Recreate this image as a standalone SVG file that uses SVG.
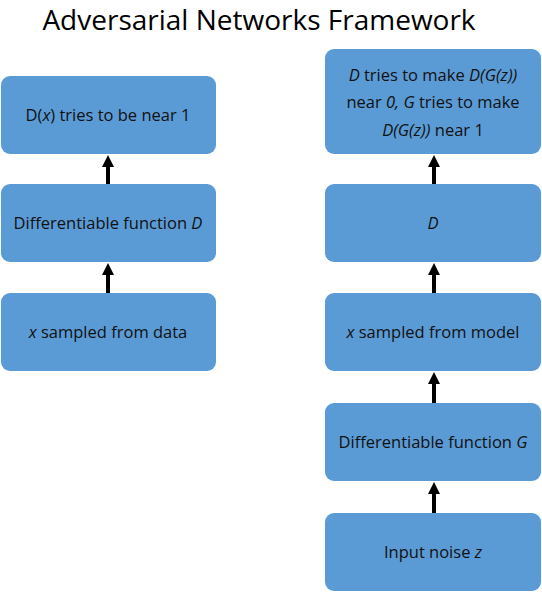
<svg xmlns="http://www.w3.org/2000/svg" width="542" height="593" viewBox="0 0 542 593">
<style>
.box{fill:#5b9bd5;}
.t{font-family:"Open Sans","Liberation Sans",sans-serif;font-size:16.5px;fill:#111;text-anchor:middle;}
.title{font-family:"Open Sans","Liberation Sans",sans-serif;font-size:28px;fill:#000;text-anchor:middle;}
.arr{stroke:#000;stroke-width:4;fill:none;marker-end:url(#ah);}
</style>
<defs>
<marker id="ah" markerWidth="3" markerHeight="3" refX="1.5" refY="1.5" orient="auto" markerUnits="strokeWidth" viewBox="0 0 3 3">
<path d="M0,0 L3,1.5 L0,3 z" fill="#000"/>
</marker>
</defs>
<rect width="542" height="593" fill="#fff"/>
<text class="title" x="259" y="30">Adversarial Networks Framework</text>
<g id="connectors">
<line class="arr" x1="108" y1="184" x2="108" y2="161"/>
<line class="arr" x1="108" y1="293" x2="108" y2="269"/>
<line class="arr" x1="434" y1="184" x2="434" y2="161"/>
<line class="arr" x1="434" y1="293" x2="434" y2="269"/>
<line class="arr" x1="434" y1="403" x2="434" y2="378"/>
<line class="arr" x1="434" y1="513" x2="434" y2="488"/>
</g>
<g id="n1"><rect class="box" x="1" y="76" width="215" height="78" rx="9"/><text class="t" x="108" y="121">D(<tspan font-style="italic">x</tspan>) tries to be near 1</text></g>
<g id="n2"><rect class="box" x="1" y="184" width="215" height="78" rx="9"/><text class="t" x="108" y="229">Differentiable function <tspan font-style="italic">D</tspan></text></g>
<g id="n3"><rect class="box" x="1" y="293" width="215" height="78" rx="9"/><text class="t" x="108" y="338"><tspan font-style="italic">x</tspan> sampled from data</text></g>
<g id="n4"><rect class="box" x="325" y="49" width="216" height="105" rx="9"/>
<text class="t" x="433" y="81"><tspan font-style="italic">D</tspan> tries to make <tspan font-style="italic">D(G(z))</tspan></text>
<text class="t" x="433" y="108">near <tspan font-style="italic">0, G</tspan> tries to make</text>
<text class="t" x="433" y="136"><tspan font-style="italic">D(G(z))</tspan> near 1</text></g>
<g id="n5"><rect class="box" x="325" y="184" width="216" height="78" rx="9"/><text class="t" x="433" y="229" font-style="italic">D</text></g>
<g id="n6"><rect class="box" x="325" y="293" width="216" height="78" rx="9"/><text class="t" x="433" y="338"><tspan font-style="italic">x</tspan> sampled from model</text></g>
<g id="n7"><rect class="box" x="325" y="403" width="216" height="78" rx="9"/><text class="t" x="433" y="448">Differentiable function <tspan font-style="italic">G</tspan></text></g>
<g id="n8"><rect class="box" x="325" y="513" width="216" height="78" rx="9"/><text class="t" x="433" y="558">Input noise <tspan font-style="italic">z</tspan></text></g>
</svg>
